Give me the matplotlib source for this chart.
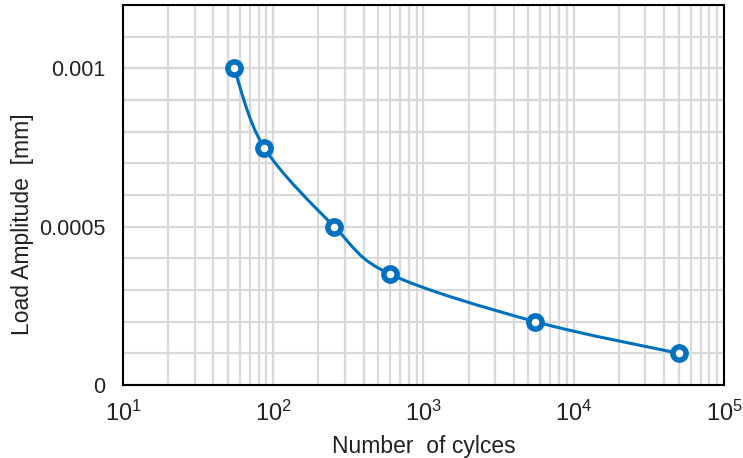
import matplotlib.pyplot as plt
import numpy as np
from matplotlib.path import Path
from matplotlib.patches import PathPatch
from matplotlib.ticker import FixedLocator, LogLocator, FuncFormatter

plt.rcParams["font.family"] = ["Liberation Sans", "DejaVu Sans"]
plt.rcParams["mathtext.fontset"] = "custom"
plt.rcParams["mathtext.rm"] = "Liberation Sans"
plt.rcParams["mathtext.it"] = "Liberation Sans"

cycles = [55, 87, 255, 600, 5550, 50000]
amplitude = [0.001, 0.00075, 0.0005, 0.00035, 0.0002, 0.0001]
y_ticks = [0, 0.0005, 0.001]
y_tick_labels = ["0", "0.0005", "0.001"]

BLUE = "#0070C0"
GRID = "#d9d9d9"
TEXT = "#222222"


def smooth_path(xs, ys, ax):
    """Catmull-Rom style bezier through the points, built in screen-like space."""
    w, h = 600.0, 380.0
    x0, x1 = np.log10(ax.get_xlim())
    y0, y1 = ax.get_ylim()
    u = (np.log10(xs) - x0) / (x1 - x0) * w
    v = (np.asarray(ys) - y0) / (y1 - y0) * h
    p = np.column_stack([u, v])
    p_ext = np.vstack([p[0], p, p[-1]])
    verts = [p[0]]
    codes = [Path.MOVETO]
    for i in range(len(p) - 1):
        a, b, c, d = p_ext[i], p_ext[i + 1], p_ext[i + 2], p_ext[i + 3]
        c1 = b + (c - a) / 6.0
        c2 = c - (d - b) / 6.0
        verts += [c1, c2, c]
        codes += [Path.CURVE4] * 3
    verts = np.array(verts)
    dx = 10 ** (verts[:, 0] / w * (x1 - x0) + x0)
    dy = verts[:, 1] / h * (y1 - y0) + y0
    return Path(np.column_stack([dx, dy]), codes)


fig = plt.figure(figsize=(7.43, 4.58), dpi=100)
ax = fig.add_axes([0.1655, 0.1594, 0.8089, 0.8296])

ax.set_xscale("log")
ax.set_xlim(10, 1e5)
ax.set_ylim(0, 0.0012)

ax.xaxis.set_major_locator(LogLocator(base=10, numticks=10))
ax.xaxis.set_minor_locator(LogLocator(base=10, subs=np.arange(2, 10), numticks=20))
ax.xaxis.set_major_formatter(
    FuncFormatter(lambda v, pos: r"$10^{%d}$" % round(np.log10(v)))
)
ax.yaxis.set_major_locator(FixedLocator(y_ticks))
ax.yaxis.set_minor_locator(FixedLocator(np.arange(1, 13) * 0.0001))
ax.set_yticklabels(y_tick_labels)

ax.grid(True, which="both", color=GRID, linewidth=1.6)
ax.set_axisbelow(True)
ax.tick_params(which="both", length=0, labelsize=15.5, colors=TEXT)
ax.tick_params(axis="x", pad=11, labelsize=17)
ax.tick_params(axis="y", pad=12.5)

for s in ax.spines.values():
    s.set_color("black")
    s.set_linewidth(1.5)

path = smooth_path(cycles, amplitude, ax)
ax.add_patch(PathPatch(path, facecolor="none", edgecolor=BLUE, linewidth=2.2, zorder=3))
ax.plot(
    cycles,
    amplitude,
    linestyle="none",
    marker="o",
    markersize=9.5,
    markerfacecolor="white",
    markeredgecolor=BLUE,
    markeredgewidth=4,
    zorder=4,
)

fig.text(424 / 743, 1 - 446 / 458, "Number  of cylces", fontsize=16.5,
         color=TEXT, ha="center", va="center")
fig.text(23 / 743, 1 - 224 / 458, "Load Amplitude  [mm]", fontsize=16.5,
         color=TEXT, ha="center", va="center", rotation=90)

fig.savefig("out.png", dpi=100)
